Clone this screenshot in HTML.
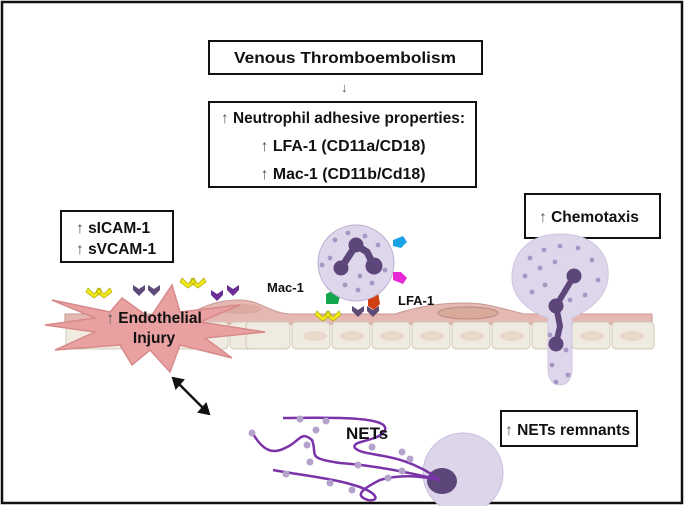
<!DOCTYPE html>
<html><head><meta charset="utf-8"><style>
html,body{margin:0;padding:0;background:#fff}
svg{display:block}
text{font-family:"Liberation Sans",Arial,sans-serif;font-weight:bold;fill:#111}
.t{font-weight:normal;fill:#555}
</style></head><body>
<svg width="685" height="506" viewBox="0 0 685 506" xmlns="http://www.w3.org/2000/svg">
<rect x="2" y="2" width="680" height="501" fill="#fff" stroke="#111" stroke-width="2.5"/>

<!-- top boxes -->
<rect x="209" y="41" width="273" height="33" fill="#fff" stroke="#111" stroke-width="2"/>
<text x="345" y="63" font-size="15.5" text-anchor="middle" textLength="222" lengthAdjust="spacingAndGlyphs">Venous Thromboembolism</text>
<text x="341" y="92" font-size="13" class="t">↓</text>
<rect x="209" y="102" width="267" height="85" fill="#fff" stroke="#111" stroke-width="2"/>
<text x="343" y="123" font-size="15.5" text-anchor="middle" textLength="244" lengthAdjust="spacingAndGlyphs"><tspan class="t">↑ </tspan>Neutrophil adhesive properties:</text>
<text x="343" y="151" font-size="15.5" text-anchor="middle" textLength="165" lengthAdjust="spacingAndGlyphs"><tspan class="t">↑ </tspan>LFA-1 (CD11a/CD18)</text>
<text x="343" y="179" font-size="15.5" text-anchor="middle" textLength="165" lengthAdjust="spacingAndGlyphs"><tspan class="t">↑ </tspan>Mac-1 (CD11b/Cd18)</text>

<rect x="61" y="211" width="112" height="51" fill="#fff" stroke="#111" stroke-width="2"/>
<text x="76" y="233" font-size="15.5"><tspan class="t">↑ </tspan>sICAM-1</text>
<text x="76" y="254" font-size="15.5"><tspan class="t">↑ </tspan>sVCAM-1</text>

<rect x="525" y="194" width="135" height="44" fill="#fff" stroke="#111" stroke-width="2"/>
<text x="539" y="222" font-size="15.5"><tspan class="t">↑ </tspan>Chemotaxis</text>

<rect x="501" y="411" width="136" height="35" fill="#fff" stroke="#111" stroke-width="2"/>
<text x="505" y="435" font-size="15.5" textLength="125" lengthAdjust="spacingAndGlyphs"><tspan class="t">↑ </tspan>NETs remnants</text>

<!-- endothelium pink band -->
<path d="M65 322 L65 314 L190 314 C205 305 220 300 240 300 C260 300 270 313 290 314 L395 314 C420 306 440 303 465 303 C490 303 505 310 525 314 L652 314 L652 324 L65 324 Z" fill="#e6b8b4" stroke="#c99a94" stroke-width="1"/>
<ellipse cx="468" cy="313" rx="30" ry="6" fill="#d9aa9c" stroke="#b98a7e"/>
<ellipse cx="240" cy="309" rx="22" ry="5" fill="#dca9a3"/>
<!-- cells -->
<g fill="#efebe1" stroke="#cfc9b8" stroke-width="1">
<rect x="66" y="322" width="80" height="27" rx="4"/>
<rect x="148" y="322" width="80" height="27" rx="4"/>
<rect x="230" y="322" width="60" height="27" rx="4"/>
<rect x="246" y="322" width="44" height="27" rx="4"/>
<rect x="292" y="322" width="38" height="27" rx="4"/>
<rect x="332" y="322" width="38" height="27" rx="4"/>
<rect x="372" y="322" width="38" height="27" rx="4"/>
<rect x="412" y="322" width="38" height="27" rx="4"/>
<rect x="452" y="322" width="38" height="27" rx="4"/>
<rect x="492" y="322" width="38" height="27" rx="4"/>
<rect x="532" y="322" width="38" height="27" rx="4"/>
<rect x="572" y="322" width="38" height="27" rx="4"/>
<rect x="612" y="322" width="42" height="27" rx="4"/>
</g>
<g fill="#ead8cc">
<ellipse cx="315" cy="336" rx="12" ry="5"/><ellipse cx="352" cy="336" rx="12" ry="5"/><ellipse cx="392" cy="336" rx="12" ry="5"/><ellipse cx="432" cy="336" rx="12" ry="5"/><ellipse cx="472" cy="336" rx="12" ry="5"/><ellipse cx="512" cy="336" rx="12" ry="5"/><ellipse cx="592" cy="336" rx="12" ry="5"/><ellipse cx="632" cy="336" rx="12" ry="5"/>
</g>

<!-- starburst -->
<polygon points="52,300 110,312 122,298 150,318 172,285 180,312 240,305 200,322 265,332 205,338 232,358 180,345 170,372 150,350 132,365 120,345 55,350 95,332 45,325 95,318" fill="#e8a0a0" stroke="#d88a8a" stroke-width="1.5"/>
<text x="154" y="323" font-size="15.5" text-anchor="middle"><tspan class="t">↑ </tspan>Endothelial</text>
<text x="154" y="343" font-size="15.5" text-anchor="middle">Injury</text>

<!-- chevrons -->
<g>
<path d="M88 288 l6 6 l6 -6 l2 4 l-8 6 l-8 -6z M98 288 l6 6 l6 -6 l2 4 l-8 6 l-8 -6z" fill="#f2ea1a" stroke="#b0a800" stroke-width="0.7"/>
<path d="M182 278 l6 6 l6 -6 l2 4 l-8 6 l-8 -6z M192 278 l6 6 l6 -6 l2 4 l-8 6 l-8 -6z" fill="#f2ea1a" stroke="#b0a800" stroke-width="0.7"/>
<path d="M317 311 l6 6 l6 -6 l2 4 l-8 6 l-8 -6z M327 311 l6 6 l6 -6 l2 4 l-8 6 l-8 -6z" fill="#f2ea1a" stroke="#b0a800" stroke-width="0.7"/>
<path d="M133 285 l6 4 l6 -4 v5 l-6 6 l-6 -6z M148 285 l6 4 l6 -4 v5 l-6 6 l-6 -6z" fill="#5c4a78"/>
<path d="M352 306 l6 4 l6 -4 v5 l-6 6 l-6 -6z M367 306 l6 4 l6 -4 v5 l-6 6 l-6 -6z" fill="#5c4a78"/>
<path d="M211 290 l6 4 l6 -4 v5 l-6 6 l-6 -6z M227 285 l6 4 l6 -4 v5 l-6 6 l-6 -6z" fill="#6a2e96"/>
</g>

<!-- neutrophil -->
<path d="M393 240 l10 -4 l4 6 l-6 6 l-8 -2z" fill="#1aa2e6"/>
<path d="M393 272 l8 0 l6 6 l-4 6 l-10 -4z" fill="#e62ad6"/>
<path d="M326 294 l8 -4 l6 6 l-2 8 l-12 0z" fill="#13a64c"/>
<path d="M368 296 l10 -4 l2 12 l-6 6 l-6 -4z" fill="#d04010"/>
<circle cx="356" cy="263" r="38" fill="#ded6ea" stroke="#b9aed0"/>
<g fill="#a797c4">
<circle cx="335" cy="240" r="2.4"/><circle cx="348" cy="233" r="2.4"/><circle cx="365" cy="236" r="2.4"/><circle cx="378" cy="245" r="2.4"/><circle cx="330" cy="258" r="2.4"/><circle cx="345" cy="285" r="2.4"/><circle cx="358" cy="290" r="2.4"/><circle cx="372" cy="283" r="2.4"/><circle cx="385" cy="270" r="2.4"/><circle cx="338" cy="272" r="2.4"/><circle cx="360" cy="276" r="2.4"/><circle cx="322" cy="265" r="2.4"/>
</g>
<g fill="#5c467a" stroke="#5c467a">
<circle cx="356" cy="245" r="7"/><circle cx="341" cy="268" r="7"/><circle cx="374" cy="266" r="8"/>
<path d="M356 245 L341 268 M356 245 L367 252 L374 266" stroke-width="7" fill="none"/>
</g>
<text x="267" y="292" font-size="13">Mac-1</text>
<text x="398" y="305" font-size="13">LFA-1</text>

<!-- chemotaxis cell -->
<path d="M560 234 C595 234 610 255 608 278 C606 300 585 312 572 318 L572 370 C572 390 548 390 548 370 L548 318 C530 312 512 298 512 278 C512 252 530 234 560 234Z" fill="#ded6ea" stroke="#cfc6e0"/>
<g fill="#a797c4">
<circle cx="530" cy="258" r="2.4"/><circle cx="544" cy="250" r="2.4"/><circle cx="560" cy="246" r="2.4"/><circle cx="578" cy="248" r="2.4"/><circle cx="592" cy="260" r="2.4"/><circle cx="525" cy="276" r="2.4"/><circle cx="540" cy="268" r="2.4"/><circle cx="555" cy="262" r="2.4"/><circle cx="598" cy="280" r="2.4"/><circle cx="532" cy="292" r="2.4"/><circle cx="585" cy="295" r="2.4"/><circle cx="545" cy="285" r="2.4"/><circle cx="570" cy="300" r="2.4"/><circle cx="550" cy="335" r="2.4"/><circle cx="566" cy="350" r="2.4"/><circle cx="552" cy="365" r="2.4"/><circle cx="568" cy="375" r="2.4"/><circle cx="556" cy="382" r="2.4"/>
</g>
<g fill="#5c467a" stroke="#5c467a">
<circle cx="574" cy="276" r="7"/><circle cx="556" cy="306" r="7"/><circle cx="556" cy="344" r="7"/>
<path d="M574 276 L556 306 L560 326 L556 344" stroke-width="6" fill="none"/>
</g>

<!-- double arrow -->
<path d="M178 383 L204 409" stroke="#111" stroke-width="2.5"/>
<path d="M173 378 L183 380 L176 388Z M209 414 L199 412 L206 404Z" fill="#111" stroke="#111" stroke-width="2"/>

<!-- NETs -->
<circle cx="463" cy="473" r="40" fill="#ddd5e9" stroke="#c8bedc"/>
<ellipse cx="442" cy="481" rx="15" ry="13" fill="#5c467a"/>
<g fill="none" stroke="#7a33a8" stroke-width="2.5">
<path d="M283 418 C320 418 390 415 385 430 C380 442 350 440 355 448 C365 458 400 450 440 480"/>
<path d="M252 432 C262 450 272 455 285 448 C300 442 300 430 312 440 C318 455 305 458 340 463 C380 466 420 475 440 480"/>
<path d="M273 470 C300 475 330 478 350 484 C380 492 380 502 368 500 C355 496 360 490 380 480 C400 474 420 476 440 480"/>
</g>
<g fill="#b5a2cc">
<circle cx="300" cy="419" r="3.5"/><circle cx="326" cy="421" r="3.5"/><circle cx="316" cy="430" r="3.5"/><circle cx="252" cy="433" r="3.5"/><circle cx="307" cy="445" r="3.5"/><circle cx="310" cy="462" r="3.5"/><circle cx="372" cy="447" r="3.5"/><circle cx="402" cy="452" r="3.5"/><circle cx="410" cy="459" r="3.5"/><circle cx="358" cy="465" r="3.5"/><circle cx="286" cy="474" r="3.5"/><circle cx="330" cy="483" r="3.5"/><circle cx="352" cy="490" r="3.5"/><circle cx="388" cy="478" r="3.5"/><circle cx="402" cy="471" r="3.5"/>
</g>
<text x="346" y="439" font-size="17">NETs</text>
</svg>
</body></html>
